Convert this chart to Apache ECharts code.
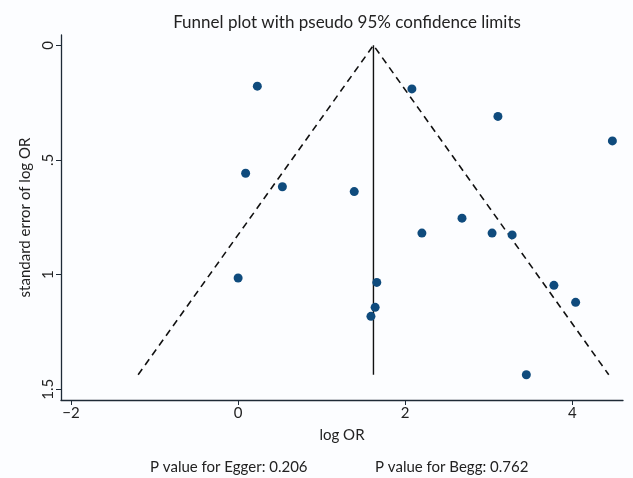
<!DOCTYPE html>
<html>
<head>
<meta charset="utf-8">
<script src="https://cdn.jsdelivr.net/npm/echarts@6/dist/echarts.min.js"></script>
<style>
html,body{margin:0;padding:0;background:#fcfdff;}
#chart{width:633px;height:478px;}
</style>
</head>
<body>
<div id="chart"></div>
<script>
// Study estimates (log OR) and their standard errors
const logOR   = [0.23, 2.08, 3.11, 4.48, 0.09, 0.53, 1.39, 2.68, 2.20, 3.04, 3.28, 0.00, 1.66, 3.78, 4.04, 1.64, 1.59, 3.45];
const seLogOR = [0.178, 0.19, 0.31, 0.417, 0.558, 0.617, 0.638, 0.754, 0.819, 0.819, 0.827, 1.015, 1.034, 1.047, 1.121, 1.143, 1.182, 1.437];
const pooledLogOR = 1.62;
const zCrit = 1.96;
const xTickValues = [-2, 0, 2, 4];
const yTickValues = [0, 0.5, 1, 1.5];
const yTickLabels = ['0', '.5', '1', '1.5'];
const titleText = 'Funnel plot with pseudo 95% confidence limits';
const xName = 'log OR';
const yName = 'standard error of log OR';
const eggerText = 'P value for Egger: 0.206';
const beggText = 'P value for Begg: 0.762';

const points = logOR.map((x, i) => [x, seLogOR[i]]);
const seMax = Math.max(...seLogOR);
const funnelData = [
  [pooledLogOR - zCrit * seMax, seMax],
  [pooledLogOR, 0],
  [pooledLogOR + zCrit * seMax, seMax]
];
const pooledLine = [[pooledLogOR, 0], [pooledLogOR, seMax]];

const FONT = 'Lato';
const axisColor = '#1e2a36';

const chart = echarts.init(document.getElementById('chart'), null, {renderer: 'canvas'});
chart.setOption({
  backgroundColor: '#fcfdff',
  animation: false,
  title: {
    text: titleText,
    left: 342, top: 9, textAlign: 'center',
    textStyle: {fontFamily: FONT, fontSize: 17, fontWeight: 'normal', color: '#222'}
  },
  grid: {left: 61, right: 10, top: 35, bottom: 78, containLabel: false},
  xAxis: {
    type: 'value', min: -2.12, max: 4.607,
    name: xName, nameLocation: 'middle', nameGap: 28,
    nameTextStyle: {fontFamily: FONT, fontSize: 15, color: '#222'},
    axisLine: {show: true, onZero: false, lineStyle: {color: axisColor, width: 1.3}},
    axisTick: {show: true, length: 5, lineStyle: {color: axisColor}, customValues: xTickValues},
    axisLabel: {fontFamily: FONT, fontSize: 15, color: '#222', margin: 6,
      customValues: xTickValues,
      formatter: v => (v < 0 ? '\u2212' + Math.abs(v) : String(v))},
    splitLine: {show: false}
  },
  yAxis: {
    type: 'value', inverse: true, min: -0.045, max: 1.547,
    name: yName, nameLocation: 'middle', nameGap: 28, nameRotate: 90,
    nameTextStyle: {fontFamily: FONT, fontSize: 15, color: '#222'},
    axisLine: {show: true, onZero: false, lineStyle: {color: axisColor, width: 1.3}},
    axisTick: {show: true, length: 5, lineStyle: {color: axisColor}, customValues: yTickValues},
    axisLabel: {fontFamily: FONT, fontSize: 15, color: '#222', margin: 5, rotate: 90,
      customValues: yTickValues,
      formatter: v => {
        const i = yTickValues.findIndex(t => Math.abs(t - v) < 1e-9);
        return i >= 0 ? yTickLabels[i] : '';
      }},
    splitLine: {show: false}
  },
  series: [
    {
      type: 'line', data: funnelData, symbol: 'none',
      lineStyle: {color: '#111', width: 1.6, type: [7, 5]}, z: 2
    },
    {
      type: 'line', data: pooledLine, symbol: 'none',
      lineStyle: {color: '#111', width: 1.4, type: 'solid'}, z: 2
    },
    {
      type: 'scatter', data: points, symbol: 'circle', symbolSize: 9,
      itemStyle: {color: '#0f4b7d', opacity: 1}, z: 3
    }
  ],
  graphic: [
    {type: 'text', left: 150, top: 460, style: {text: eggerText, font: '15px Lato', fill: '#222'}},
    {type: 'text', left: 375, top: 460, style: {text: beggText, font: '15px Lato', fill: '#222'}}
  ]
});
</script>
</body>
</html>
